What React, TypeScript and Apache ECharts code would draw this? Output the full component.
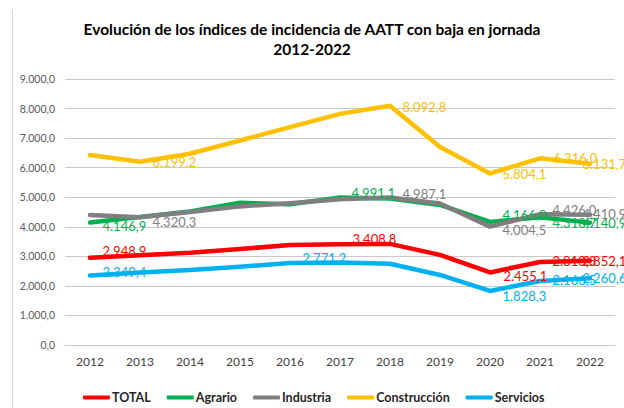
import React, { useEffect, useRef } from "react";
import * as echarts from "echarts";

const years = ["2012", "2013", "2014", "2015", "2016", "2017", "2018", "2019", "2020", "2021", "2022"];
const total = [2948.9, 3040, 3120, 3250, 3380, 3408.8, 3420, 3050, 2455.1, 2810.3, 2852.1];
const agrario = [4146.9, 4330, 4520, 4810, 4760, 4991.1, 4960, 4740, 4166.0, 4318.7, 4140.9];
const industria = [4400, 4320.3, 4500, 4690, 4800, 4930, 4987.1, 4790, 4004.5, 4426.0, 4410.9];
const construccion = [6430, 6199.2, 6470, 6920, 7370, 7820, 8092.8, 6700, 5804.1, 6316.0, 6131.7];
const servicios = [2349.4, 2455, 2540, 2650, 2771.2, 2790, 2750, 2370, 1828.3, 2166.5, 2260.6];
const yTicks = [0, 1000, 2000, 3000, 4000, 5000, 6000, 7000, 8000, 9000];

const seriesDefs = [
  { name: "TOTAL", data: total, color: "#FF0000" },
  { name: "Agrario", data: agrario, color: "#00B050" },
  { name: "Industria", data: industria, color: "#7F7F7F" },
  { name: "Construcción", data: construccion, color: "#FFC000" },
  { name: "Servicios", data: servicios, color: "#00B0F0" },
];

// label placement (style): index -> [dx, dy, decimal separator]
const labelPlacement: Record<string, Record<number, [number, number, string?]>> = {
  TOTAL: { 0: [12, -7, "."], 5: [12, -5, "."], 8: [13, 4], 9: [12, -1], 10: [-8, 0] },
  Agrario: { 0: [12, 4], 5: [11, -4], 8: [12, -7], 9: [12, 6], 10: [-8, 0] },
  Industria: { 1: [12, 5], 6: [12, -4], 8: [12, 3], 9: [12, -4], 10: [-8, -1] },
  "Construcción": { 1: [12, 0], 6: [12, 1], 8: [12, 1], 9: [13, 0], 10: [-8, 0] },
  Servicios: { 0: [12, -4], 4: [12, -5], 8: [12, 5], 9: [12, -1], 10: [-8, 0] },
};

const fmt = (v: number, dec = ",") => {
  const [i, d] = v.toFixed(1).split(".");
  return i.replace(/\B(?=(\d{3})+(?!\d))/g, ".") + dec + d;
};

const FONT = "Lato";

export default function App() {
  const ref = useRef<HTMLDivElement>(null);
  useEffect(() => {
    if (!ref.current) return;
    const chart = echarts.init(ref.current, null, { renderer: "svg" });
    chart.setOption({
      animation: false,
      backgroundColor: "#FFFFFF",
      title: {
        text: "Evolución de los índices de incidencia de AATT con baja en jornada\n2012-2022",
        left: "center",
        top: 14,
        textStyle: { fontFamily: FONT, fontSize: 15.5, fontWeight: "bold", color: "#000000", lineHeight: 20 },
      },
      graphic: [
        { type: "line", shape: { x1: 12.5, y1: 10, x2: 12.5, y2: 408 }, style: { stroke: "#D9D9D9", lineWidth: 1 } },
      ],
      legend: {
        left: 78,
        top: 386,
        itemWidth: 27,
        itemHeight: 4,
        itemGap: 16,
        icon: "roundRect",
        textStyle: { fontFamily: FONT, fontSize: 12.5, fontWeight: "bold", color: "#262626", padding: [0, 0, 0, -3] },
        data: seriesDefs.map((s) => s.name),
      },
      grid: { left: 65, right: 9, top: 79, bottom: 63, containLabel: false },
      xAxis: {
        type: "category",
        data: years,
        boundaryGap: true,
        axisLine: { show: true, lineStyle: { color: "#C8C8C8", width: 1 } },
        axisTick: { show: false },
        axisLabel: { fontFamily: FONT, fontSize: 12, color: "#404040", margin: 10 },
      },
      yAxis: {
        type: "value",
        min: yTicks[0],
        max: yTicks[yTicks.length - 1],
        interval: 1000,
        axisLine: { show: false },
        axisTick: { show: false },
        splitLine: { lineStyle: { color: "#C8C8C8", width: 1 } },
        axisLabel: { fontFamily: FONT, fontSize: 10.5, color: "#595959", margin: 10, formatter: (v: number) => fmt(v) },
      },
      series: seriesDefs.map((s) => ({
        name: s.name,
        type: "line",
        symbol: "circle",
        symbolSize: 1,
        showSymbol: true,
        itemStyle: { color: s.color },
        lineStyle: { color: s.color, width: 4.5, cap: "round", join: "round" },
        emphasis: { disabled: true },
        data: s.data.map((v, i) => {
          const p = labelPlacement[s.name][i];
          if (!p) return v;
          return {
            value: v,
            label: {
              show: true,
              position: "right",
              distance: 0,
              offset: [p[0], p[1]],
              formatter: fmt(v, p[2] || ","),
              fontFamily: FONT,
              fontSize: 13,
              color: s.color,
            },
          };
        }),
      })),
    });
    return () => chart.dispose();
  }, []);
  return <div ref={ref} style={{ width: 624, height: 408, position: "absolute", left: 0, top: 0 }} />;
}
